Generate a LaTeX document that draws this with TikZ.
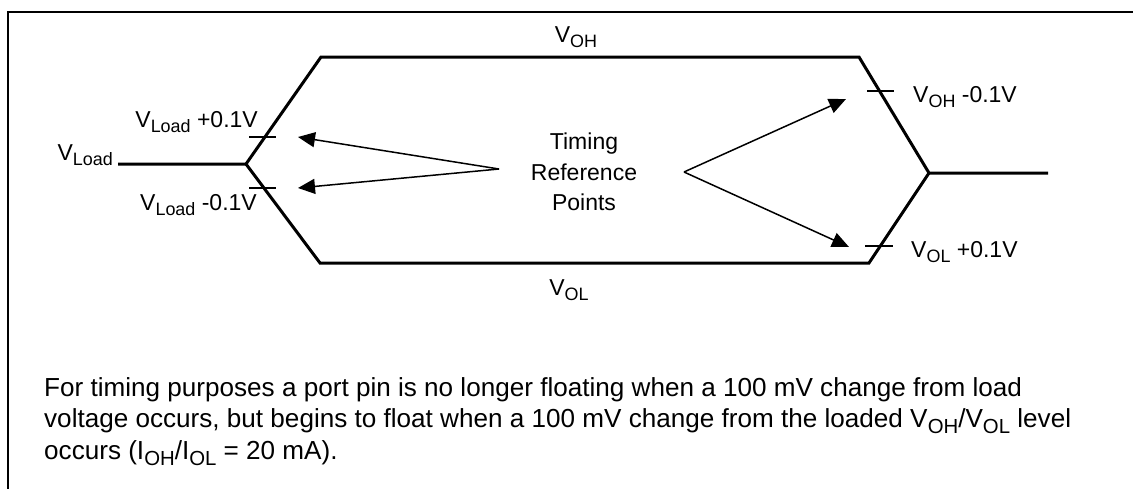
\documentclass[tikz,border=0pt]{standalone}
\usepackage{fontspec}
\setmainfont{Liberation Sans}
\usetikzlibrary{arrows.meta}
\newcommand{\sub}[1]{\raisebox{-0.23em}{\scalebox{0.78}{#1}}}

\begin{document}
\begin{tikzpicture}[x=1pt, y=-1pt,
    wave/.style={line width=3pt, line join=miter},
    tickmark/.style={line width=1.5pt},
    refarrow/.style={-{Triangle[length=17pt,width=15pt]}, line width=1.5pt},
    lbl/.style={inner sep=0pt, font=\fontsize{23}{30.5}\selectfont}]
    \useasboundingbox (0,0) rectangle (1133,488);

    % frame
    \draw[line width=2pt] (8,492) -- (8,12) -- (1137,12);

    % waveform corners
    \coordinate (w0) at (118,164);
    \coordinate (w1) at (246,164);
    \coordinate (w2) at (321,57);
    \coordinate (w3) at (859,57);
    \coordinate (w4) at (929,173);
    \coordinate (w5) at (1048,173);
    \coordinate (w6) at (869,263);
    \coordinate (w7) at (320,263);

    \draw[wave] (w0) -- (w1) -- (w2) -- (w3) -- (w4) -- (w5);
    \draw[wave] (w1) -- (w7) -- (w6) -- (w4);

    % 0.1V marks
    \draw[tickmark] (249,137) -- (276,137);
    \draw[tickmark] (249,188) -- (276,188);
    \draw[tickmark] (867,91) -- (894,91);
    \draw[tickmark] (865,246) -- (893,246);

    % timing reference points
    \node[lbl, align=center] (trp) at (584,172) {Timing\\Reference\\Points};
    \coordinate (tl) at (499,169);
    \coordinate (tr) at (684,172);
    \coordinate (p1) at (298,137);
    \coordinate (p2) at (298,188);
    \coordinate (p3) at (846,99);
    \coordinate (p4) at (849,247);
    \foreach \p in {p1,p2} {
        \draw[refarrow] (tl) -- (\p);
      }
    \foreach \p in {p3,p4} {
        \draw[refarrow] (tr) -- (\p);
      }

    % levels
    \node[lbl, anchor=base east] (vload) at (113,160) {V\sub{Load}};
    \node[lbl, anchor=base east] (vlp) at (258,127) {V\sub{Load} +0.1V};
    \node[lbl, anchor=base east] (vlm) at (257,210) {V\sub{Load} -0.1V};
    \node[lbl, anchor=base] (voh) at (576,42) {V\sub{OH}};
    \node[lbl, anchor=base] (vol) at (569,295) {V\sub{OL}};
    \node[lbl, anchor=base west] (vohm) at (913,102) {V\sub{OH} -0.1V};
    \node[lbl, anchor=base west] (volp) at (911,257) {V\sub{OL} +0.1V};

    % note (base = last line)
    \node[lbl, anchor=base west, align=left, font=\fontsize{26.1}{31.2}\selectfont] (note) at (44,459) {For timing purposes a port pin is no longer floating when a 100 mV change from load\\voltage occurs, but begins to float when a 100 mV change from the loaded V\sub{OH}/V\sub{OL} level\\occurs (I\sub{OH}/I\sub{OL} = 20 mA).};
  \end{tikzpicture}
\end{document}
